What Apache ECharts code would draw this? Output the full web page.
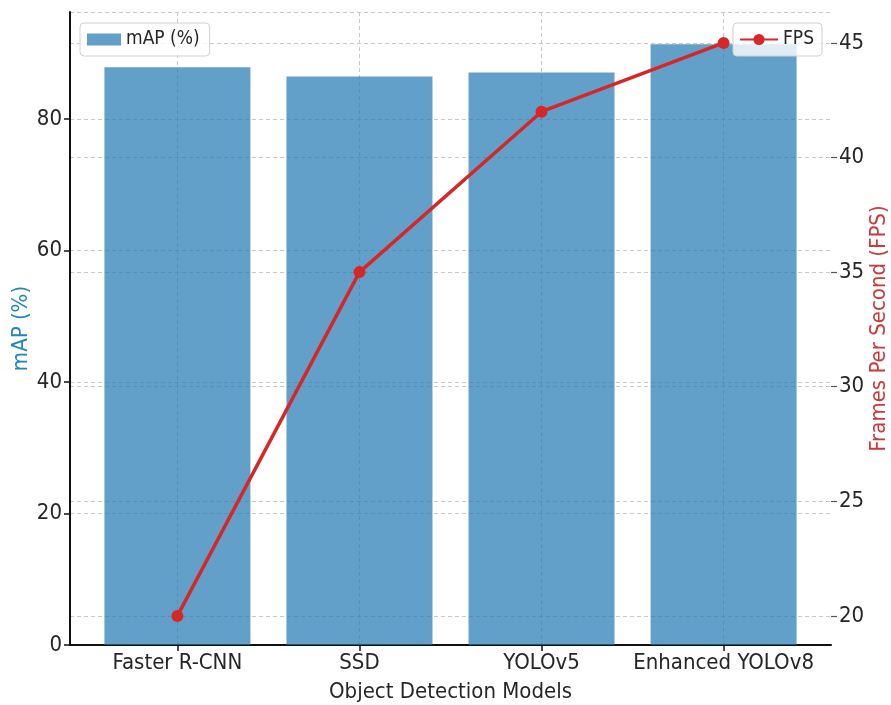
<!DOCTYPE html>
<html><head><meta charset="utf-8">
<script src="https://cdn.jsdelivr.net/npm/echarts@6/dist/echarts.min.js"></script>
<style>html,body{margin:0;padding:0;background:#fff}#c{width:891px;height:705px}</style>
</head><body><div id="c"></div>
<script>
const categories = ['Faster R-CNN', 'SSD', 'YOLOv5', 'Enhanced YOLOv8'];
const mapValues = [87.9, 86.5, 87.1, 91.4];
const fpsValues = [20, 35, 42, 45];
const fpsTicks = [20, 25, 30, 35, 40, 45];
const catIdx = categories.map((c, i) => i);

const FONT = "'DejaVu Sans Condensed', 'DejaVu Sans', sans-serif";
const TXT = '#262626';
const GRIDLINE = {show: true, lineStyle: {color: '#c8c8c8', type: [4, 3], width: 1}};
const chart = echarts.init(document.getElementById('c'));
chart.setOption({
  animation: false,
  textStyle: {fontFamily: FONT},
  grid: {left: 70, right: 60, top: 12, bottom: 60, containLabel: false, outerBoundsMode: 'none'},
  legend: [
    {data: ['mAP (%)'], left: 80, top: 23, icon: 'rect', itemWidth: 34, itemHeight: 12, itemGap: 10,
     textStyle: {fontFamily: FONT, fontSize: 19, color: TXT}, borderColor: '#d0d0d0', borderWidth: 1,
     borderRadius: 4, padding: [7, 10, 7, 7], backgroundColor: 'rgba(255,255,255,0.8)'},
    {data: ['FPS'], right: 69, top: 23, itemWidth: 38, itemHeight: 14, itemGap: 10,
     textStyle: {fontFamily: FONT, fontSize: 19, color: TXT}, borderColor: '#d0d0d0', borderWidth: 1,
     borderRadius: 4, padding: [7, 8, 7, 6], backgroundColor: 'rgba(255,255,255,0.8)'}
  ],
  xAxis: {
    type: 'value', min: -0.59, max: 3.59,
    name: 'Object Detection Models', nameLocation: 'middle', nameGap: 36, nameMoveOverlap: false,
    nameTextStyle: {fontFamily: FONT, fontSize: 22, color: TXT},
    axisLine: {show: true, onZero: false, lineStyle: {color: '#111', width: 2}},
    axisTick: {show: true, length: 6, customValues: catIdx, lineStyle: {color: '#111', width: 1.5}},
    axisLabel: {fontFamily: FONT, fontSize: 22, color: TXT, margin: 7, customValues: catIdx,
                formatter: v => categories[Math.round(v)]},
    splitLine: GRIDLINE
  },
  yAxis: [
    {
      type: 'value', min: 0, max: 96.3, interval: 20,
      name: 'mAP (%)', nameLocation: 'middle', nameGap: 38, nameMoveOverlap: false,
      nameTextStyle: {fontFamily: FONT, fontSize: 22, color: '#1f86b8'},
      axisLine: {show: true, onZero: false, lineStyle: {color: '#111', width: 2}},
      axisTick: {show: true, length: 6, lineStyle: {color: '#111', width: 1.5}},
      axisLabel: {fontFamily: FONT, fontSize: 22, color: TXT, margin: 8, showMaxLabel: false},
      splitLine: GRIDLINE
    },
    {
      type: 'value', min: 18.73, max: 46.35,
      name: 'Frames Per Second (FPS)', nameLocation: 'middle', nameGap: 37, nameMoveOverlap: false,
      nameTextStyle: {fontFamily: FONT, fontSize: 22, color: '#c9393a'},
      axisLine: {show: false, onZero: false},
      axisTick: {show: true, length: 6, customValues: fpsTicks, lineStyle: {color: '#555', width: 1.2}},
      axisLabel: {fontFamily: FONT, fontSize: 22, color: TXT, margin: 8, customValues: fpsTicks},
      splitLine: GRIDLINE
    }
  ],
  series: [
    {
      name: 'mAP (%)', type: 'bar', data: mapValues.map((v, i) => [i, v]), yAxisIndex: 0, barWidth: 146,
      itemStyle: {color: '#1f77b4', opacity: 0.7}
    },
    {
      name: 'FPS', type: 'line', data: fpsValues.map((v, i) => [i, v]), yAxisIndex: 1,
      symbol: 'circle', symbolSize: 12,
      lineStyle: {color: '#d62728', width: 3.5}, itemStyle: {color: '#d62728'}
    }
  ]
});
</script></body></html>
